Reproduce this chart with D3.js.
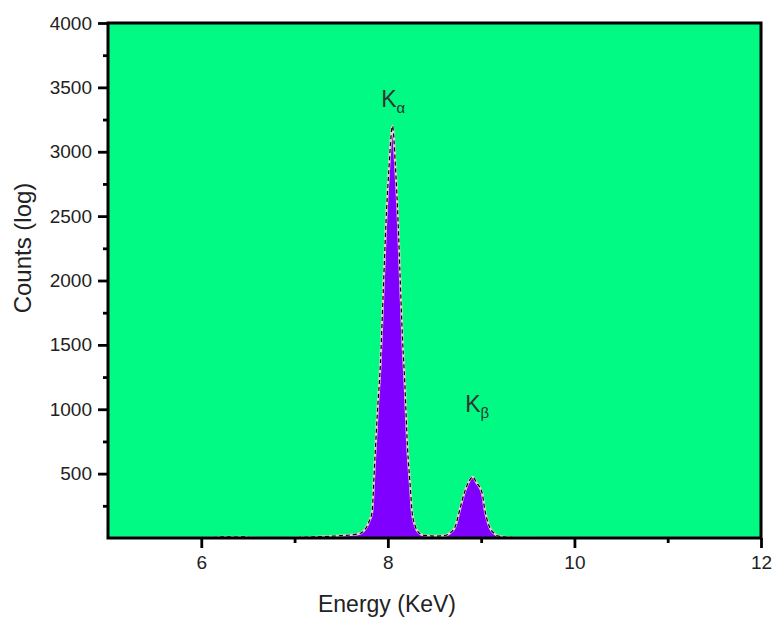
<!DOCTYPE html>
<html>
<head>
<meta charset="utf-8">
<script src="https://cdn.jsdelivr.net/npm/d3@7"></script>
<style>
  html, body { margin: 0; padding: 0; background: #fff; }
  svg { display: block; }
  text { font-family: Arial, "Liberation Sans", sans-serif; }
</style>
</head>
<body>
<svg id="chart" width="774" height="617"></svg>
<script>
// ---- data ----
const energy = [5.0, 6.0, 6.15, 6.25, 6.35, 6.45, 6.55, 6.8, 7.0, 7.2, 7.4, 7.5, 7.6, 7.7, 7.75, 7.8, 7.83, 7.86, 7.89, 7.92, 7.95, 7.98, 8.01, 8.05, 8.08, 8.11, 8.13, 8.16, 8.18, 8.21, 8.24, 8.26, 8.29, 8.31, 8.35, 8.4, 8.5, 8.6, 8.66, 8.72, 8.77, 8.82, 8.87, 8.91, 8.95, 9.01, 9.04, 9.09, 9.14, 9.2, 9.3, 9.5, 10.0, 11.0, 12.0];
const counts = [0, 0, 5, 9, 7, 9, 3, 0, 3, 8, 14, 18, 24, 35, 62, 130, 200, 600, 1000, 1350, 1900, 2450, 2850, 3200, 2900, 2450, 2050, 1500, 1230, 710, 400, 200, 100, 62, 30, 20, 15, 18, 35, 85, 217, 350, 440, 475, 430, 350, 217, 85, 35, 12, 5, 2, 0, 0, 0];
const xTicks = [6, 8, 10, 12];
const xMinor = [7, 9, 11];
const yTicks = [500, 1000, 1500, 2000, 2500, 3000, 3500, 4000];
const yMinor = [250, 750, 1250, 1750, 2250, 2750, 3250, 3750];
const xTitle = "Energy (KeV)";
const yTitle = "Counts (log)";
const peakLabels = [
  { base: "K", sub: "α", e: 7.94, c: 3348 },
  { base: "K", sub: "β", e: 8.84, c: 979 }
];

// ---- layout ----
const L = 108, R = 761, T = 23, B = 538;
const svg = d3.select("#chart");
const x = d3.scaleLinear().domain([5, 12]).range([L, R]);
const y = d3.scaleLinear().domain([0, 4000]).range([B, T]);

// background
svg.append("rect").attr("x", L).attr("y", T).attr("width", R - L).attr("height", B - T)
  .attr("fill", "#00fa84");

svg.append("clipPath").attr("id", "clip").append("rect")
  .attr("x", L).attr("y", T).attr("width", R - L).attr("height", B - T);

const pts = energy.map((e, i) => [e, counts[i]]);
const area = d3.area().x(d => x(d[0])).y0(y(0)).y1(d => y(d[1])).curve(d3.curveMonotoneX);
const line = d3.line().x(d => x(d[0])).y(d => y(d[1])).curve(d3.curveMonotoneX);

const g = svg.append("g").attr("clip-path", "url(#clip)");
g.append("path").datum(pts).attr("d", area).attr("fill", "#8000ff");
g.append("path").datum(pts).attr("d", line).attr("fill", "none")
  .attr("stroke", "#e0d0d0").attr("stroke-width", 2.4);
g.append("path").datum(pts).attr("d", line).attr("fill", "none")
  .attr("stroke", "#000").attr("stroke-width", 1.2).attr("stroke-dasharray", "4,3");

// axes
function styleAxis(sel) {
  sel.select(".domain").remove();
  sel.selectAll(".tick line").attr("stroke", "#000").attr("stroke-width", 2.8);
  sel.selectAll(".tick text").attr("fill", "#222").style("font-size", "19px")
    .style("font-family", "Arial, 'Liberation Sans', sans-serif");
}
svg.append("g").attr("transform", `translate(${L},0)`)
  .call(d3.axisLeft(y).tickValues(yTicks).tickSize(10).tickPadding(6).tickFormat(d3.format("d")))
  .call(styleAxis);
svg.append("g").attr("transform", `translate(${L},0)`)
  .call(d3.axisLeft(y).tickValues(yMinor).tickSize(5).tickFormat(""))
  .call(styleAxis);
svg.append("g").attr("transform", `translate(0,${B})`)
  .call(d3.axisBottom(x).tickValues(xTicks).tickSize(10).tickPadding(8).tickFormat(d3.format("d")))
  .call(styleAxis);
svg.append("g").attr("transform", `translate(0,${B})`)
  .call(d3.axisBottom(x).tickValues(xMinor).tickSize(5).tickFormat(""))
  .call(styleAxis);

// frame
svg.append("rect").attr("x", L).attr("y", T).attr("width", R - L).attr("height", B - T)
  .attr("fill", "none").attr("stroke", "#000").attr("stroke-width", 3);

// titles
svg.append("text").attr("x", 387).attr("y", 612)
  .attr("text-anchor", "middle").attr("fill", "#222").style("font-size", "23px").text(xTitle);
svg.append("text").attr("transform", `translate(31,248) rotate(-90)`)
  .attr("text-anchor", "middle").attr("fill", "#222").style("font-size", "24px").text(yTitle);

// peak labels
peakLabels.forEach(p => {
  const t = svg.append("text").attr("x", x(p.e) - 1).attr("y", y(p.c))
    .attr("text-anchor", "start").attr("fill", "#333").style("font-size", "23px");
  t.append("tspan").text(p.base);
  t.append("tspan").attr("dy", 6).style("font-size", "15px").text(p.sub);
});
</script>
</body>
</html>
